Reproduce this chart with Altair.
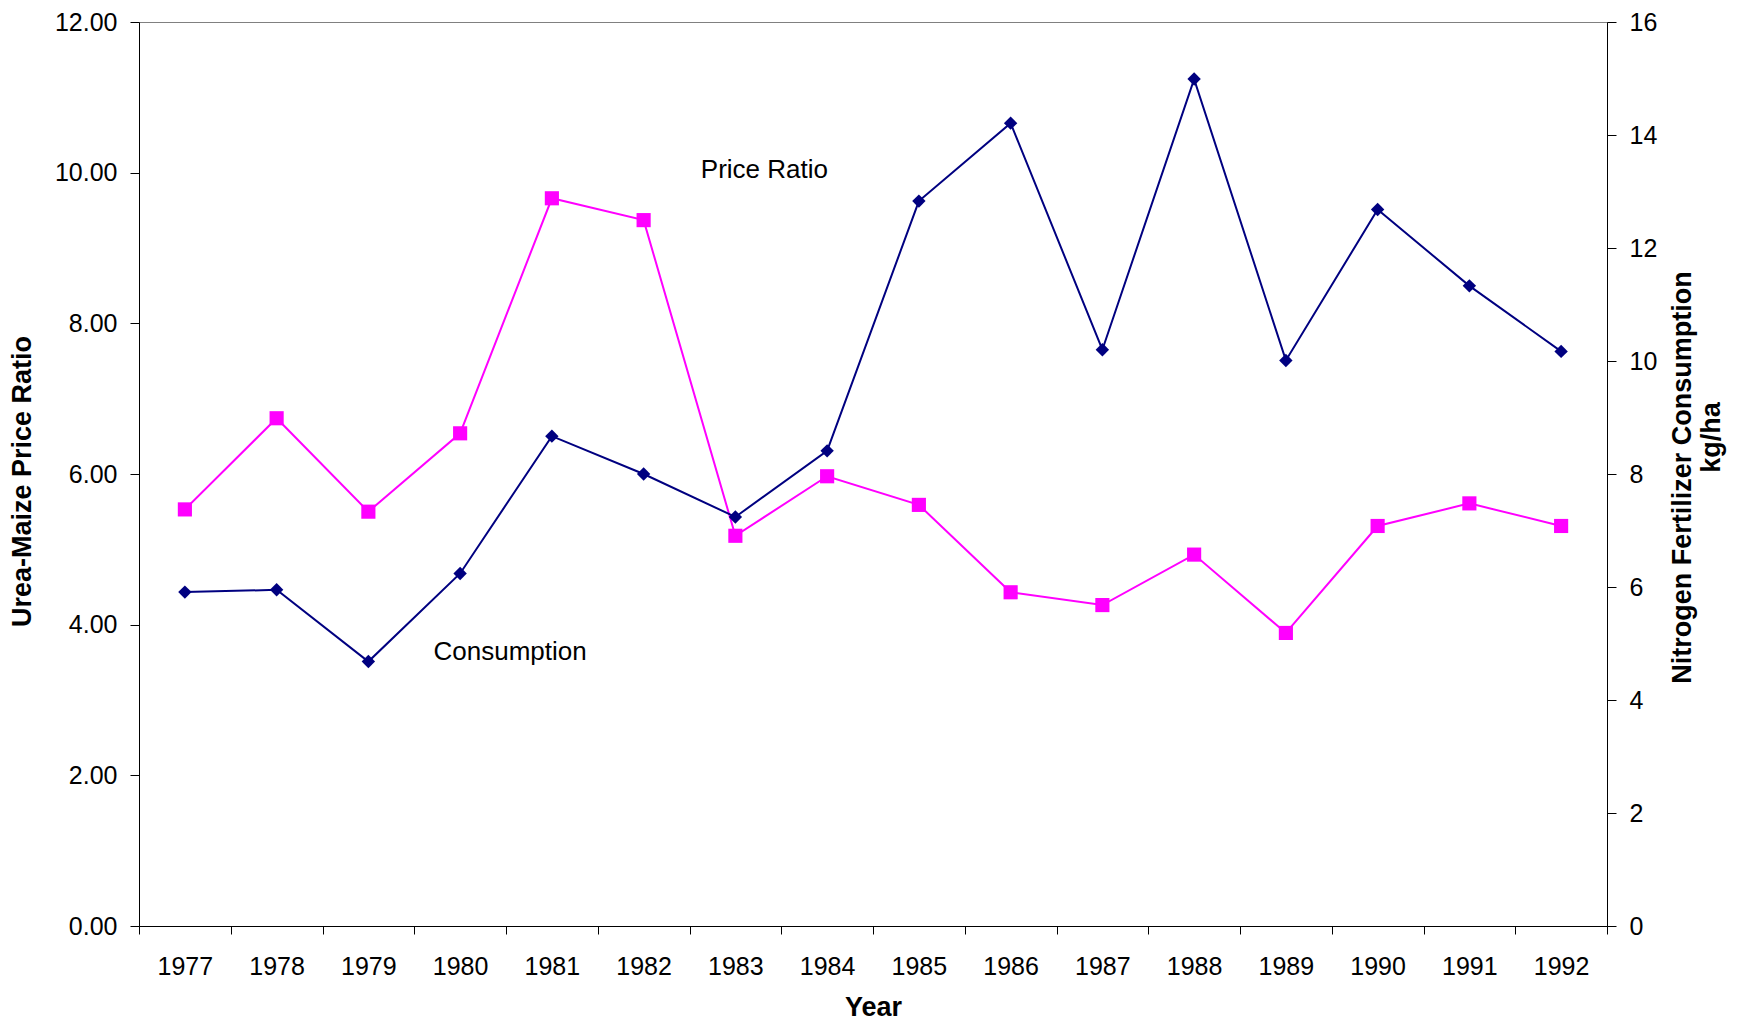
import altair as alt
import pandas as pd

# ---- data ----
years = [str(y) for y in range(1977, 1993)]
price_ratio = [5.53, 6.74, 5.50, 6.54, 9.66, 9.37, 5.18, 5.97,
               5.59, 4.43, 4.26, 4.93, 3.89, 5.31, 5.61, 5.31]          # left axis (magenta squares)
consumption = [5.91, 5.95, 4.68, 6.24, 8.67, 8.00, 7.24, 8.41,
               12.83, 14.21, 10.20, 14.99, 10.01, 12.68, 11.33, 10.17]  # right axis (navy diamonds)
left_ticks = [0, 2, 4, 6, 8, 10, 12]
right_ticks = [0, 2, 4, 6, 8, 10, 12, 14, 16]
ann_labels = ["Price Ratio", "Consumption"]
ann_years = ["1983", "1980"]
ann_values = [10.04, 3.64]
right_title = ["Nitrogen Fertilizer Consumption", "\u2800" * 4 + "kg/ha"]

TICK_FONT = "Liberation Sans, Arial, sans-serif"
TITLE_FONT = "Liberation Sans, Arial, sans-serif"
PINK = "#FF00FF"
NAVY = "#000080"

df_left = pd.DataFrame({"Year": years, "v": price_ratio})
df_right = pd.DataFrame({"Year": years, "w": consumption})
df_ann = pd.DataFrame({"Year": ann_years, "v": ann_values, "label": ann_labels})

x_enc = alt.X(
    "Year:O",
    scale=alt.Scale(type="band", paddingInner=0, paddingOuter=0),
    axis=alt.Axis(
        title="Year", labelAngle=0, tickBand="extent", tickSize=8,
        labelPadding=20, labelFont=TICK_FONT, labelFontSize=25, labelColor="black",
        domainColor="black", tickColor="black",
        titleFont=TITLE_FONT, titleFontSize=27, titleFontWeight="bold",
        titleBaseline="alphabetic", titleY=89, titleColor="black",
    ),
)

y_left = alt.Y(
    "v:Q",
    scale=alt.Scale(domain=[0, 12], nice=False, zero=True),
    axis=alt.Axis(
        orient="left", values=left_ticks, format=".2f", grid=False,
        tickSize=9, labelPadding=13, labelFont=TICK_FONT, labelFontSize=25,
        labelColor="black", domainColor="black", tickColor="black",
        title="Urea-Maize Price Ratio", titleFont=TITLE_FONT, titleFontSize=27,
        titleFontWeight="bold", titleAngle=270, titleBaseline="middle",
        titleAlign="center", titleX=-117, titleY=459, titleColor="black",
    ),
)

y_right = alt.Y(
    "w:Q",
    scale=alt.Scale(domain=[0, 16], nice=False, zero=True),
    axis=alt.Axis(
        orient="right", values=right_ticks, format="d", grid=False,
        tickSize=9, labelPadding=13, labelFont=TICK_FONT, labelFontSize=25,
        labelColor="black", domainColor="black", tickColor="black",
        title=right_title, titleFont=TITLE_FONT,
        titleFontSize=27, titleFontWeight="bold", titleAngle=270,
        titleBaseline="middle", titleAlign="center", titleLineHeight=29,
        titleX=75, titleY=455, titleColor="black",
    ),
)

pink_line = alt.Chart(df_left).mark_line(color=PINK, strokeWidth=2).encode(x=x_enc, y=y_left)
pink_pts = alt.Chart(df_left).mark_point(
    shape="square", filled=True, size=200, color=PINK, opacity=1
).encode(x=x_enc, y=y_left)

ann1 = alt.Chart(df_ann.iloc[[0]]).mark_text(
    font=TICK_FONT, fontSize=26, color="black", align="center", baseline="middle", dx=29
).encode(x=x_enc, y=y_left, text="label:N")
ann2 = alt.Chart(df_ann.iloc[[1]]).mark_text(
    font=TICK_FONT, fontSize=26, color="black", align="center", baseline="middle", dx=50
).encode(x=x_enc, y=y_left, text="label:N")

navy_line = alt.Chart(df_right).mark_line(color=NAVY, strokeWidth=2).encode(x=x_enc, y=y_right)
navy_pts = alt.Chart(df_right).mark_point(
    shape="diamond", filled=True, size=180, color=NAVY, opacity=1
).encode(x=x_enc, y=y_right)

left_layer = alt.layer(pink_line, pink_pts, ann1, ann2)
right_layer = alt.layer(navy_line, navy_pts)

chart = (
    alt.layer(left_layer, right_layer)
    .resolve_scale(y="independent")
    .properties(
        width=1468, height=904,
        autosize=alt.AutoSizeParams(type="none"),
        padding={"left": 131, "top": 14, "right": 122, "bottom": 95},
        background="white",
    )
    .configure_view(stroke="#808080", strokeWidth=1)
)

chart.save("out.html", embed_options={"renderer": "svg", "actions": False})
